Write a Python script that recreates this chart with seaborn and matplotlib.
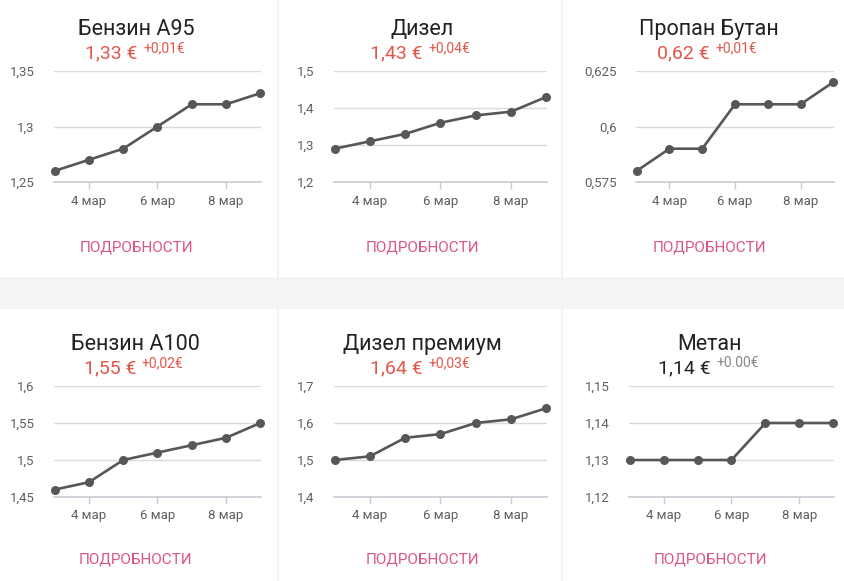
import pandas as pd
import seaborn as sns
import matplotlib.pyplot as plt
from matplotlib.patches import Rectangle

# Данные (3-9 март)
days = [3, 4, 5, 6, 7, 8, 9]
tick_days = [4, 6, 8]
tick_labels = ["4 мар", "6 мар", "8 мар"]

names = ["Бензин A95", "Дизел", "Пропан Бутан", "Бензин A100", "Дизел премиум", "Метан"]
prices = ["1,33 €", "1,43 €", "0,62 €", "1,55 €", "1,64 €", "1,14 €"]
changes = ["+0,01€", "+0,04€", "+0,01€", "+0,02€", "+0,03€", "+0.00€"]

a95 = [1.26, 1.27, 1.28, 1.30, 1.32, 1.32, 1.33]
dizel = [1.29, 1.31, 1.33, 1.36, 1.38, 1.39, 1.43]
propan = [0.58, 0.59, 0.59, 0.61, 0.61, 0.61, 0.62]
a100 = [1.46, 1.47, 1.50, 1.51, 1.52, 1.53, 1.55]
dizel_prem = [1.50, 1.51, 1.56, 1.57, 1.60, 1.61, 1.64]
metan = [1.13, 1.13, 1.13, 1.13, 1.14, 1.14, 1.14]
series = [a95, dizel, propan, a100, dizel_prem, metan]

yticks = [
    [1.25, 1.30, 1.35],
    [1.2, 1.3, 1.4, 1.5],
    [0.575, 0.6, 0.625],
    [1.45, 1.5, 1.55, 1.6],
    [1.4, 1.5, 1.6, 1.7],
    [1.12, 1.13, 1.14, 1.15],
]
ytick_labels = [
    ["1,25", "1,3", "1,35"],
    ["1,2", "1,3", "1,4", "1,5"],
    ["0,575", "0,6", "0,625"],
    ["1,45", "1,5", "1,55", "1,6"],
    ["1,4", "1,5", "1,6", "1,7"],
    ["1,12", "1,13", "1,14", "1,15"],
]

W, H = 845, 581
sns.set_theme(style="white")
plt.rcParams['font.family'] = ['Roboto', 'DejaVu Sans']

fig = plt.figure(figsize=(W / 100, H / 100), dpi=100)
fig.patch.set_facecolor("white")


def fx(px):
    return px / W


def fy(py):
    return 1 - py / H


# фон между карточками
fig.patches.append(Rectangle((0, fy(309)), 1, (309 - 277) / H, transform=fig.transFigure,
                             facecolor="#f4f4f4", edgecolor="none", zorder=0))
for xs in [277.5, 562.5]:
    for y0, y1 in [(0, 277), (309, 581)]:
        fig.lines.append(plt.Line2D([fx(xs), fx(xs)], [fy(y0), fy(y1)], transform=fig.transFigure,
                                    color="#f1f1f1", lw=1.5, zorder=0))

# позиции осей (px): left, right, top, bottom
boxes = [
    (54, 261, 71, 182), (334, 547, 71, 182), (636, 834, 71, 182),
    (54, 261, 386, 497), (334, 547, 386, 497), (629, 834, 386, 497),
]
centers = [136, 422, 709, 135, 422, 710]
title_y = [35, 35, 35, 350, 350, 350]
link_y = [251, 251, 251, 564, 564, 564]

red = "#e2574c"
pink = "#dc5482"

for i in range(6):
    l, r, t, b = boxes[i]
    ax = fig.add_axes([fx(l), fy(b), (r - l) / W, (b - t) / H])
    df = pd.DataFrame({"day": days, "price": series[i]})
    sns.lineplot(data=df, x="day", y="price", ax=ax, color="#575757", lw=1.9,
                 marker="o", markersize=6.5, markeredgewidth=0, clip_on=False, zorder=5)
    ax.set_xlim(2.98, 9.02)
    ax.set_ylim(yticks[i][0], yticks[i][-1])
    ax.set_yticks(yticks[i])
    ax.set_yticklabels(ytick_labels[i])
    ax.set_xticks(tick_days)
    ax.set_xticklabels(tick_labels)
    ax.set_xlabel("")
    ax.set_ylabel("")
    ax.grid(axis="y", color="#dadada", lw=1)
    for s in ["top", "right", "left"]:
        ax.spines[s].set_visible(False)
    ax.spines["bottom"].set_color("#c7ccd4")
    ax.spines["bottom"].set_linewidth(1.2)
    ax.tick_params(axis="y", length=0, pad=14, labelsize=9.5, labelcolor="#5f5f5f")
    ax.tick_params(axis="x", length=5, width=1, color="#c7ccd4", pad=4,
                   labelsize=9.5, labelcolor="#5f5f5f", bottom=True)
    ax.set_facecolor("none")

    cx = centers[i]
    fig.text(fx(cx), fy(title_y[i]), names[i], ha="center", va="baseline",
             fontsize=15.5, color="#222222")
    pc = red if i != 5 else "#222222"
    cc = red if i != 5 else "#888888"
    fig.text(fx(cx + 1), fy(title_y[i] + 23), prices[i], ha="right", va="baseline",
             fontsize=14, color=pc)
    fig.text(fx(cx + 7), fy(title_y[i] + 17), changes[i], ha="left", va="baseline",
             fontsize=10, color=cc)
    fig.text(fx(cx), fy(link_y[i]), "ПОДРОБНОСТИ", ha="center", va="baseline",
             fontsize=11, color=pink)

plt.savefig("out.png", dpi=100)
